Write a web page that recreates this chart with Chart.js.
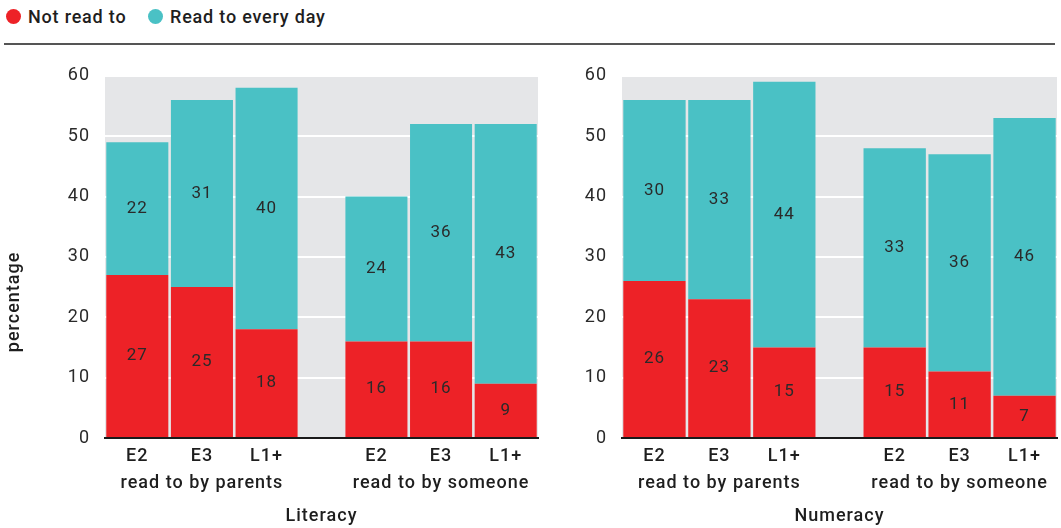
<!DOCTYPE html>
<html lang="en">
<head>
<meta charset="UTF-8">
<title>Read to as a child</title>
<script src="https://cdn.jsdelivr.net/npm/chart.js@4/dist/chart.umd.min.js"></script>
<style>
  body { margin: 0; width: 1061px; height: 528px; background: #fff; font-family: Roboto, sans-serif; color: #1e1e1e; overflow: hidden; }
  .head { position: absolute; left: 4px; top: 0; width: 1051px; height: 43px; border-bottom: 2px solid #555; }
  .item { position: absolute; top: 6px; font-size: 18px; font-weight: 500; letter-spacing: 0.8px; line-height: 22px; }
  .dot { display: inline-block; width: 15px; height: 15px; border-radius: 50%; vertical-align: -1px; margin-right: 7px; }
  #left { position: absolute; left: 0; top: 50px; }
  #right { position: absolute; left: 540px; top: 50px; }
</style>
</head>
<body>
<div class="head">
  <span class="item" style="left:2px"><span class="dot" style="background:#ed2227"></span>Not read to</span>
  <span class="item" style="left:144px"><span class="dot" style="background:#4ac1c5"></span>Read to every day</span>
</div>
<canvas id="left" width="540" height="478"></canvas>
<canvas id="right" width="521" height="478"></canvas>

<script>
  const levels = ['E2', 'E3', 'L1+'];
  const groups = ['read to by parents', 'read to by someone'];
  const seriesNames = ['Not read to', 'Read to every day'];
  const yTicks = [0, 10, 20, 30, 40, 50, 60];

  // Literacy: first three bars = parents, last three = someone
  const litNotRead = [27, 25, 18, 16, 16, 9];
  const litEveryDay = [22, 31, 40, 24, 36, 43];
  // Numeracy
  const numNotRead = [26, 23, 15, 15, 11, 7];
  const numEveryDay = [30, 33, 44, 33, 36, 46];

  const RED = '#ed2227';
  const TEAL = '#4ac1c5';
  const GAP = 0.7; // extra space between the two groups

  function xPos(i) {
    return i + Math.floor(i / 3) * GAP;
  }

  // wider tracking, like the original type
  const spacing = {
    id: 'spacing',
    beforeUpdate(chart) { chart.ctx.letterSpacing = '1px'; }
  };

  const greyBack = {
    id: 'greyBack',
    beforeDraw(chart) {
      const a = chart.chartArea;
      chart.ctx.save();
      chart.ctx.fillStyle = '#e5e6e8';
      chart.ctx.fillRect(a.left, a.top, a.right - a.left, a.bottom - a.top);
      chart.ctx.restore();
    }
  };

  const barLabels = {
    id: 'barLabels',
    afterDatasetsDraw(chart) {
      const ctx = chart.ctx;
      ctx.save();
      ctx.font = '17px Roboto';
      ctx.fillStyle = '#2a2a2a';
      ctx.textAlign = 'center';
      ctx.textBaseline = 'middle';
      chart.data.datasets.forEach((ds, di) => {
        chart.getDatasetMeta(di).data.forEach((el, i) => {
          const p = el.getCenterPoint();
          ctx.fillText(ds.data[i].y, p.x, p.y);
        });
      });
      ctx.restore();
    }
  };

  const yTitle = {
    id: 'yTitle',
    afterDraw(chart) {
      if (!chart.options.plugins.yTitle.text) return;
      const ctx = chart.ctx;
      ctx.save();
      ctx.translate(14, (chart.chartArea.top + chart.height) / 2);
      ctx.rotate(-Math.PI / 2);
      ctx.font = '500 18px Roboto';
      ctx.fillStyle = '#1e1e1e';
      ctx.textAlign = 'center';
      ctx.textBaseline = 'middle';
      ctx.fillText(chart.options.plugins.yTitle.text, 0, 0);
      ctx.restore();
    }
  };

  function makeChart(id, title, notRead, everyDay, yWidth, yLabel) {
    const positions = notRead.map((v, i) => xPos(i));
    return new Chart(id, {
      type: 'bar',
      data: {
        datasets: [
          { label: seriesNames[0], backgroundColor: RED, data: notRead.map((v, i) => ({ x: positions[i], y: v })) },
          { label: seriesNames[1], backgroundColor: TEAL, data: everyDay.map((v, i) => ({ x: positions[i], y: v })) }
        ]
      },
      options: {
        responsive: false,
        animation: false,
        layout: { padding: { top: 25, right: id === 'left' ? 2 : 4, bottom: 0, left: 0 } },
        datasets: { bar: { categoryPercentage: 1, barPercentage: 0.96, borderWidth: 0 } },
        plugins: {
          legend: { display: false },
          tooltip: { enabled: false },
          yTitle: { text: yLabel }
        },
        scales: {
          x: {
            type: 'linear',
            offset: false,
            stacked: true,
            min: -0.5,
            max: xPos(notRead.length - 1) + 0.5,
            grid: { display: false, drawTicks: false },
            border: { display: true, color: '#1a1a1a', width: 2, z: 1 },
            afterBuildTicks(scale) {
              scale.ticks = positions.map(v => ({ value: v }));
            },
            afterFit(scale) { scale.height = 90; },
            ticks: {
              autoSkip: false,
              maxRotation: 0,
              padding: 5,
              color: '#1e1e1e',
              font: { family: 'Roboto', size: 18, weight: 500, lineHeight: 1.5 },
              callback(value, index) {
                const k = index % 3;
                if (k === 1) return [levels[k], groups[Math.floor(index / 3)]];
                return levels[k];
              }
            },
            title: {
              display: true,
              text: title,
              color: '#1e1e1e',
              font: { family: 'Roboto', size: 18, weight: 500, lineHeight: 1.2 },
              padding: { top: 0, bottom: 1 }
            }
          },
          y: {
            stacked: true,
            min: 0,
            max: 60,
            afterBuildTicks(scale) {
              scale.ticks = yTicks.map(v => ({ value: v }));
            },
            afterFit(scale) { scale.width = yWidth; },
            grid: { color: '#ffffff', lineWidth: 2, drawTicks: false },
            border: { display: false },
            ticks: {
              padding: 15,
              color: '#2a2a2a',
              font: { family: 'Roboto', size: 18 }
            }
          }
        }
      },
      plugins: [spacing, greyBack, barLabels, yTitle]
    });
  }

  makeChart('left', 'Literacy', litNotRead, litEveryDay, 105, 'percentage');
  makeChart('right', 'Numeracy', numNotRead, numEveryDay, 82, '');
</script>
</body>
</html>
